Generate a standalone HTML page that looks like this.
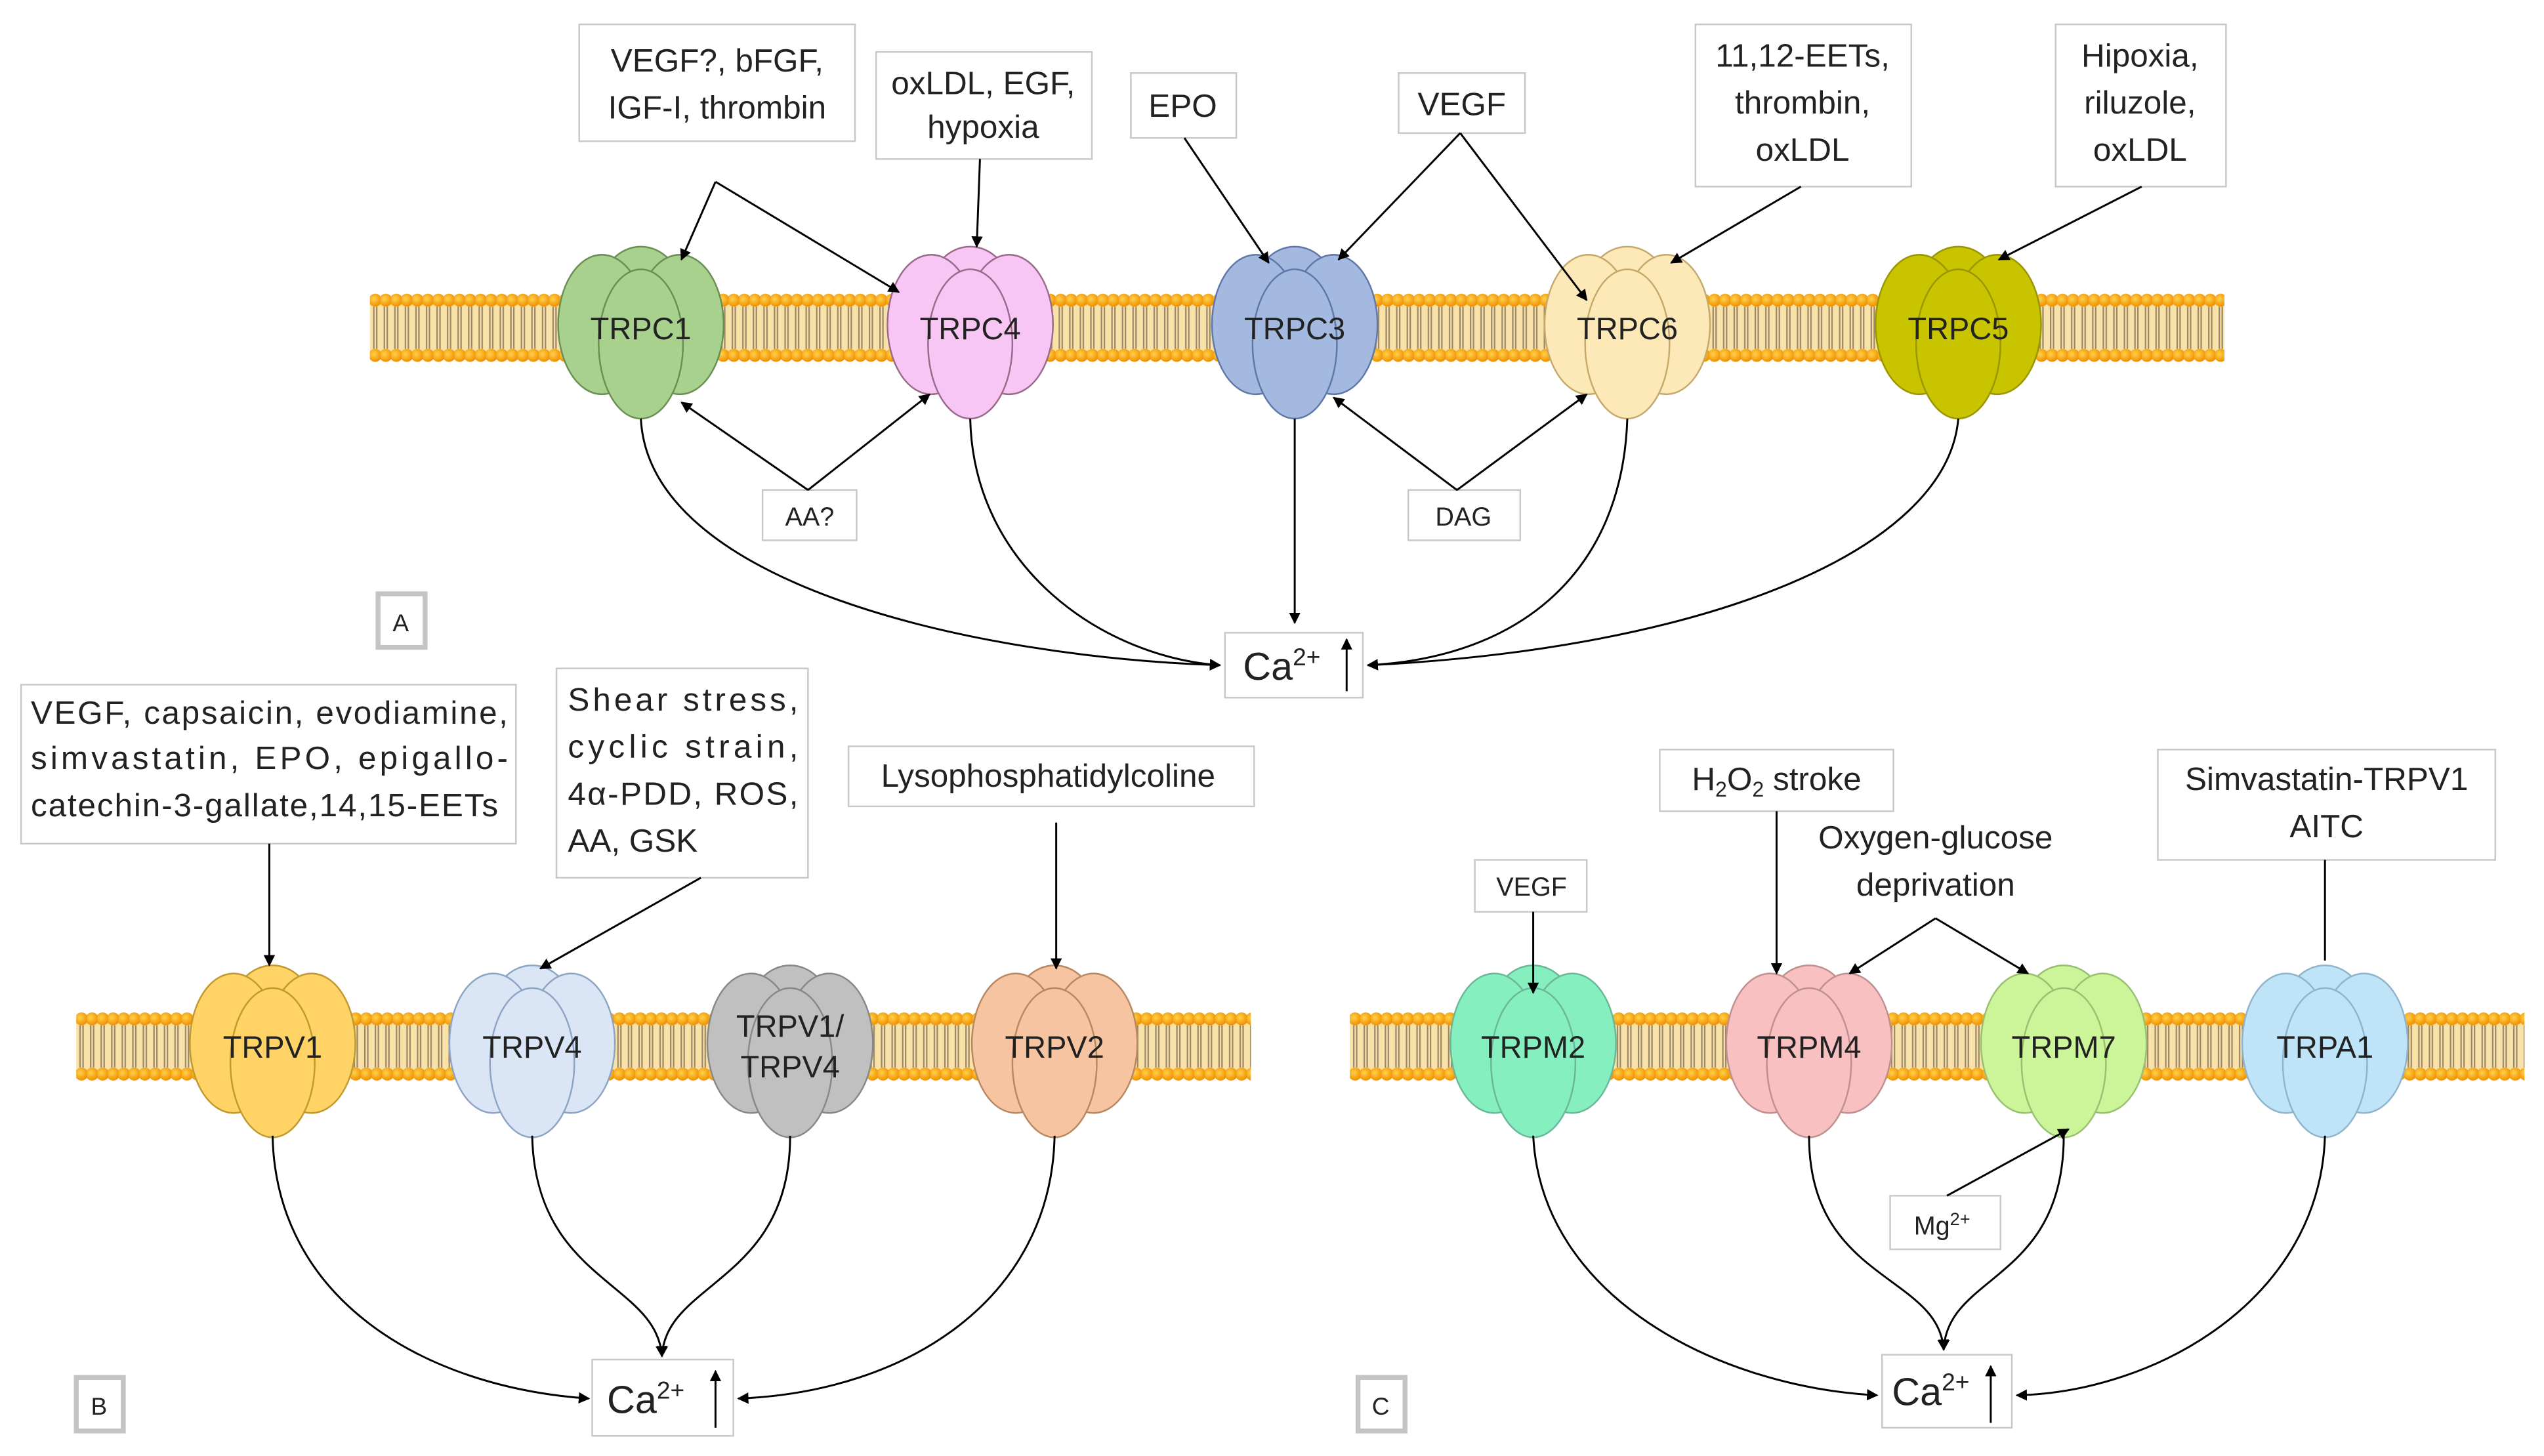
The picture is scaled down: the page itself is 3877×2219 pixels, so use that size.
<!DOCTYPE html>
<html><head><meta charset="utf-8"><style>
html,body{margin:0;padding:0;background:#fff;}
svg{display:block;}
text{font-family:"Liberation Sans Narrow","Liberation Sans",sans-serif;fill:#222;}
</style></head><body>
<svg width="3877" height="2219" viewBox="0 0 1568 897.4" xmlns="http://www.w3.org/2000/svg">
<defs>
<marker id="ar" viewBox="0 0 10 10" refX="9" refY="5" markerWidth="7" markerHeight="7" orient="auto-start-reverse" markerUnits="userSpaceOnUse"><path d="M0,0 L10,5 L0,10 z" fill="#000"/></marker>
<radialGradient id="hd" cx="0.4" cy="0.4" r="0.6"><stop offset="0" stop-color="#ffd24a"/><stop offset="1" stop-color="#f09000"/></radialGradient>
<pattern id="mem" width="6.5" height="44" patternUnits="userSpaceOnUse">
<rect x="0" y="5" width="6.5" height="34" fill="#f8e2a8"/>
<path d="M2.4,9 V35 M4.2,9 V35" stroke="#9c8868" stroke-width="0.9"/>
<circle cx="3.25" cy="5" r="4" fill="url(#hd)"/>
<circle cx="3.25" cy="39" r="4" fill="url(#hd)"/>
</pattern>
<g id="ch">
<ellipse cx="0" cy="-22" rx="25" ry="28"/>
<ellipse cx="-24" cy="-2" rx="27" ry="43"/>
<ellipse cx="24" cy="-2" rx="27" ry="43"/>
<ellipse cx="0" cy="10" rx="26" ry="46"/>
</g>
</defs>
<g stroke="#444" stroke-width="1" fill="none">
<g transform="translate(228,180)"><rect x="0" y="0" width="1143" height="44" fill="url(#mem)" stroke="none"/></g>
<g transform="translate(47,623)"><rect x="0" y="0" width="724" height="44" fill="url(#mem)" stroke="none"/></g>
<g transform="translate(832,623)"><rect x="0" y="0" width="724" height="44" fill="url(#mem)" stroke="none"/></g>

<use href="#ch" x="395" y="202" fill="#a9d18e" stroke="#6a8f55"/>
<use href="#ch" x="598" y="202" fill="#f8c6f4" stroke="#9a6a8a"/>
<use href="#ch" x="798" y="202" fill="#a4b9e0" stroke="#5f78a8"/>
<use href="#ch" x="1003" y="202" fill="#fde9b8" stroke="#c6a86a"/>
<use href="#ch" x="1207" y="202" fill="#c8c400" stroke="#9a9500"/>
<use href="#ch" x="168" y="645" fill="#ffd366" stroke="#c09a30"/>
<use href="#ch" x="328" y="645" fill="#dae6f5" stroke="#8ea4c4"/>
<use href="#ch" x="487" y="645" fill="#c0c0c0" stroke="#888"/>
<use href="#ch" x="650" y="645" fill="#f6c4a0" stroke="#b88860"/>
<use href="#ch" x="945" y="645" fill="#86efc0" stroke="#6ab898"/>
<use href="#ch" x="1115" y="645" fill="#f8c0c0" stroke="#c09090"/>
<use href="#ch" x="1272" y="645" fill="#ccf59a" stroke="#99c070"/>
<use href="#ch" x="1433" y="645" fill="#bfe3f7" stroke="#90b4cc"/>

<g stroke="#c8c8c8" fill="#fff">
<rect x="357" y="15" width="170" height="72"/>
<rect x="540" y="32" width="133" height="66"/>
<rect x="697" y="45" width="65" height="40"/>
<rect x="862" y="45" width="78" height="37"/>
<rect x="1045" y="15" width="133" height="100"/>
<rect x="1267" y="15" width="105" height="100"/>
<rect x="470" y="302" width="58" height="31"/>
<rect x="868" y="302" width="69" height="31"/>
<rect x="755" y="390" width="85" height="40"/>
<rect x="13" y="422" width="305" height="98"/>
<rect x="343" y="412" width="155" height="129"/>
<rect x="523" y="460" width="250" height="37"/>
<rect x="365" y="838" width="87" height="47"/>
<rect x="909" y="530" width="69" height="32"/>
<rect x="1023" y="462" width="144" height="38"/>
<rect x="1330" y="462" width="208" height="68"/>
<rect x="1165" y="737" width="68" height="33"/>
<rect x="1160" y="835" width="80" height="45"/>
</g>
<g stroke="#c4c4c4" stroke-width="3" fill="#fff">
<rect x="233" y="366" width="29" height="33"/>
<rect x="47" y="849" width="29" height="33"/>
<rect x="837" y="849" width="29" height="33"/>
</g>

<g stroke="#000" stroke-width="1.2" fill="none">
<path d="M441,112 L420,160" marker-end="url(#ar)"/>
<path d="M441,112 L554,180" marker-end="url(#ar)"/>
<path d="M604,98 L602,152" marker-end="url(#ar)"/>
<path d="M730,85 L782,162" marker-end="url(#ar)"/>
<path d="M900,82 L825,160" marker-end="url(#ar)"/>
<path d="M900,82 L978,185" marker-end="url(#ar)"/>
<path d="M1110,115 L1030,162" marker-end="url(#ar)"/>
<path d="M1320,115 L1232,160" marker-end="url(#ar)"/>
<path d="M498,302 L420,248" marker-end="url(#ar)"/>
<path d="M498,302 L573,243" marker-end="url(#ar)"/>
<path d="M898,302 L822,245" marker-end="url(#ar)"/>
<path d="M898,302 L978,243" marker-end="url(#ar)"/>
<path d="M395,258 C400,360 600,405 752,410" marker-end="url(#ar)"/>
<path d="M598,258 C600,350 680,405 752,410" marker-end="url(#ar)"/>
<path d="M798,258 L798,384" marker-end="url(#ar)"/>
<path d="M1003,258 C1000,350 940,405 843,410" marker-end="url(#ar)"/>
<path d="M1207,258 C1200,340 1050,400 843,410" marker-end="url(#ar)"/>
<path d="M830,426 L830,394" marker-end="url(#ar)"/>
<path d="M166,520 L166,595" marker-end="url(#ar)"/>
<path d="M432,541 L333,597" marker-end="url(#ar)"/>
<path d="M651,507 L651,597" marker-end="url(#ar)"/>
<path d="M168,700 C170,800 260,855 363,862" marker-end="url(#ar)"/>
<path d="M328,700 C330,790 405,790 408,836" marker-end="url(#ar)"/>
<path d="M487,700 C487,790 410,790 408,836" marker-end="url(#ar)"/>
<path d="M650,700 C648,800 560,858 455,862" marker-end="url(#ar)"/>
<path d="M441,880 L441,845" marker-end="url(#ar)"/>
<path d="M945,562 L945,612" marker-end="url(#ar)"/>
<path d="M1095,500 L1095,600" marker-end="url(#ar)"/>
<path d="M1193,566 L1140,600" marker-end="url(#ar)"/>
<path d="M1193,566 L1250,600" marker-end="url(#ar)"/>
<path d="M1433,530 L1433,592"/>
<path d="M1200,737 L1275,696" marker-end="url(#ar)"/>
<path d="M945,700 C950,800 1060,855 1157,860" marker-end="url(#ar)"/>
<path d="M1115,700 C1115,790 1195,785 1198,832" marker-end="url(#ar)"/>
<path d="M1272,700 C1272,790 1200,785 1198,832" marker-end="url(#ar)"/>
<path d="M1433,700 C1430,800 1330,858 1243,860" marker-end="url(#ar)"/>
<path d="M1227,877 L1227,842" marker-end="url(#ar)"/>
</g>
</g>

<g font-size="19" text-anchor="middle">
<text x="395" y="209">TRPC1</text>
<text x="598" y="209">TRPC4</text>
<text x="798" y="209">TRPC3</text>
<text x="1003" y="209">TRPC6</text>
<text x="1207" y="209">TRPC5</text>
<text x="168" y="652">TRPV1</text>
<text x="328" y="652">TRPV4</text>
<text x="487" y="639">TRPV1/</text>
<text x="487" y="664">TRPV4</text>
<text x="650" y="652">TRPV2</text>
<text x="945" y="652">TRPM2</text>
<text x="1115" y="652">TRPM4</text>
<text x="1272" y="652">TRPM7</text>
<text x="1433" y="652">TRPA1</text>
</g>
<g font-size="20" text-anchor="middle">
<text x="442" y="44">VEGF?, bFGF,</text>
<text x="442" y="73">IGF-I, thrombin</text>
<text x="606" y="58">oxLDL, EGF,</text>
<text x="606" y="85">hypoxia</text>
<text x="729" y="72">EPO</text>
<text x="901" y="71">VEGF</text>
<text x="1111" y="41">11,12-EETs,</text>
<text x="1111" y="70">thrombin,</text>
<text x="1111" y="99">oxLDL</text>
<text x="1319" y="41">Hipoxia,</text>
<text x="1319" y="70">riluzole,</text>
<text x="1319" y="99">oxLDL</text>
<text x="499" y="324" font-size="16">AA?</text>
<text x="902" y="324" font-size="16">DAG</text>
<text x="247" y="389" font-size="15">A</text>
<text x="61" y="872" font-size="15">B</text>
<text x="851" y="872" font-size="15">C</text>
</g>
<g font-size="20" text-anchor="start">
<text x="19" y="446" textLength="294" lengthAdjust="spacing">VEGF, capsaicin, evodiamine,</text>
<text x="19" y="474" textLength="294" lengthAdjust="spacing">simvastatin, EPO, epigallo-</text>
<text x="19" y="503" textLength="288" lengthAdjust="spacing">catechin-3-gallate,14,15-EETs</text>
<text x="350" y="438" textLength="142" lengthAdjust="spacing">Shear stress,</text>
<text x="350" y="467" textLength="142" lengthAdjust="spacing">cyclic strain,</text>
<text x="350" y="496" textLength="142" lengthAdjust="spacing">4α-PDD, ROS,</text>
<text x="350" y="525">AA, GSK</text>
</g>
<g font-size="20" text-anchor="middle">
<text x="646" y="485">Lysophosphatidylcoline</text>
<text x="944" y="552" font-size="16">VEGF</text>
<text x="1095" y="487">H<tspan font-size="13" dy="4">2</tspan><tspan dy="-4">O</tspan><tspan font-size="13" dy="4">2</tspan><tspan dy="-4"> stroke</tspan></text>
<text x="1193" y="523">Oxygen-glucose</text>
<text x="1193" y="552">deprivation</text>
<text x="1434" y="487">Simvastatin-TRPV1</text>
<text x="1434" y="516">AITC</text>
<text x="1197" y="761" font-size="16">Mg<tspan font-size="11" dy="-6">2+</tspan></text>
<text x="790" y="419" font-size="24">Ca<tspan font-size="15" dy="-9">2+</tspan></text>
<text x="398" y="871" font-size="24">Ca<tspan font-size="15" dy="-9">2+</tspan></text>
<text x="1190" y="866" font-size="24">Ca<tspan font-size="15" dy="-9">2+</tspan></text>
</g>
</svg>
</body></html>
